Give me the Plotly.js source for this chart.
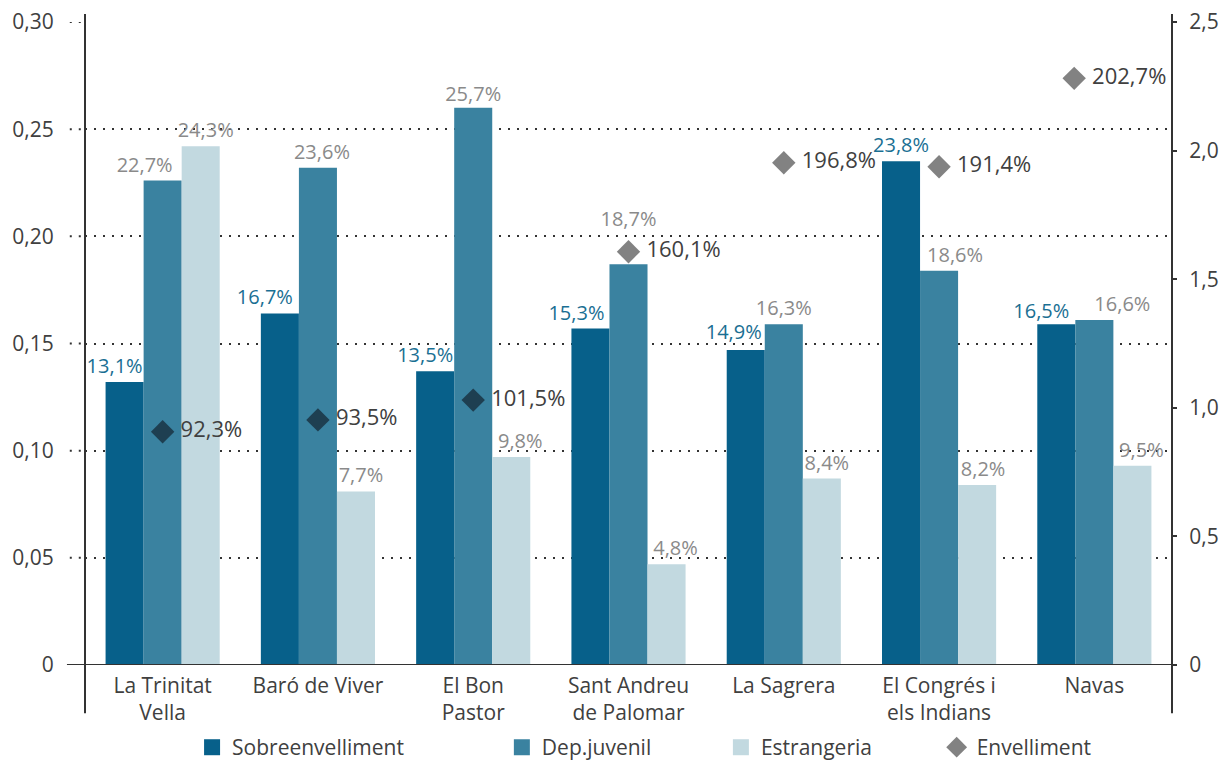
<!DOCTYPE html>
<html>
<head>
<meta charset="utf-8">
<script src="https://cdn.plot.ly/plotly-3.0.1.min.js"></script>
<style>html,body{margin:0;padding:0;background:#fff;}#chart{width:1222px;height:764px;}</style>
</head>
<body>
<div id="chart"></div>
<script>
// ---- data ----
const categories = ["La Trinitat<br>Vella", "Baró de Viver", "El Bon<br>Pastor", "Sant Andreu<br>de Palomar", "La Sagrera", "El Congrés i<br>els Indians", "Navas"];
const sobreenvelliment = [0.132, 0.164, 0.137, 0.157, 0.147, 0.235, 0.159];
const sobreLabels = ["13,1%", "16,7%", "13,5%", "15,3%", "14,9%", "23,8%", "16,5%"];
const depJuvenil = [0.226, 0.232, 0.260, 0.187, 0.159, 0.184, 0.161];
const depLabels = ["22,7%", "23,6%", "25,7%", "18,7%", "16,3%", "18,6%", "16,6%"];
const estrangeria = [0.242, 0.081, 0.097, 0.047, 0.087, 0.084, 0.093];
const estrLabels = ["24,3%", "7,7%", "9,8%", "4,8%", "8,4%", "8,2%", "9,5%"];
const envelliment = [0.907, 0.953, 1.030, 1.607, 1.953, 1.937, 2.281];
const envLabels = ["92,3%", "93,5%", "101,5%", "160,1%", "196,8%", "191,4%", "202,7%"];
const leftTicks = [0, 0.05, 0.10, 0.15, 0.20, 0.25, 0.30];
const leftTickText = ["0", "0,05", "0,10", "0,15", "0,20", "0,25", "0,30"];
const rightTicks = [0, 0.5, 1.0, 1.5, 2.0, 2.5];
const rightTickText = ["0", "0,5", "1,0", "1,5", "2,0", "2,5"];

// ---- styles / placement ----
const FONT = "'Open Sans', sans-serif";
const C_SOBRE = "#07608a", C_DEP = "#3a82a0", C_ESTR = "#c2d9e0";
const envColors = ["#1e3f51", "#1e3f51", "#1e3f51", "#828282", "#828282", "#828282", "#828282"];
const PLOT_W = 1087, PLOT_H = 643, Y_MAX = 0.30, BARGAP = 0.265;
const N = categories.length;
// label nudges as placed in the reference: horizontal px from bar centre, extra lift px
const sobreNudge = [-10, -15, -10, -14, -12, 0, -15];
const depNudge = [-18, 4, 0, 0, 0, 16, 28];
const estrNudge = [5, 5, 9, 9, 5, 6, 9];
const sobreLift = [0, 0, 0, 0, 2, 0, -3];
const depLift = [0, 0, -2, 29, 0, 0, 0];
const estrLift = [0, 0, 0, 0, 0, 0, 0];
const diamondNudge = [0, 0, 0, 0, 0, 0, -0.13];   // in category widths
const LABEL_GAP = 14;  // px from bar top to label centre

const barW = (1 - BARGAP) / 3;
function labelTrace(vals, labels, slot, nudgeX, lift, color) {
  return {
    type: "scatter", mode: "text", xaxis: "x2", yaxis: "y", showlegend: false, hoverinfo: "none",
    cliponaxis: false, textposition: "middle center",
    x: vals.map(function (v, i) { return i + (slot - 1) * barW + nudgeX[i] * N / PLOT_W; }),
    y: vals.map(function (v, i) { return v + (LABEL_GAP + lift[i]) * Y_MAX / PLOT_H; }),
    text: labels, textfont: {family: FONT, size: 20, color: color}
  };
}

const barCommon = {type: "bar", x: categories, hoverinfo: "none", showlegend: false};

const traces = [
  Object.assign({}, barCommon, {name: "Sobreenvelliment", y: sobreenvelliment, marker: {color: C_SOBRE}}),
  Object.assign({}, barCommon, {name: "Dep.juvenil", y: depJuvenil, marker: {color: C_DEP}}),
  Object.assign({}, barCommon, {name: "Estrangeria", y: estrangeria, marker: {color: C_ESTR}}),
  labelTrace(sobreenvelliment, sobreLabels, 0, sobreNudge, sobreLift, "#1a6f93"),
  labelTrace(depJuvenil, depLabels, 1, depNudge, depLift, "#8a8a8a"),
  labelTrace(estrangeria, estrLabels, 2, estrNudge, estrLift, "#8a8a8a"),
  {
    type: "scatter", mode: "markers+text", name: "Envelliment",
    x: envelliment.map(function (v, i) { return i + diamondNudge[i]; }), y: envelliment,
    xaxis: "x2", yaxis: "y2", text: envLabels, texttemplate: "\u00a0%{text}", textposition: "middle right", cliponaxis: false,
    marker: {symbol: "diamond", size: 18, color: envColors},
    textfont: {family: FONT, size: 22, color: "#404040"}, showlegend: false, hoverinfo: "none"
  }
];
// legend entries (larger symbols than bar legend icons allow)
const legendItems = [
  {name: "Sobreenvelliment", symbol: "square", color: C_SOBRE, legend: "legend"},
  {name: "Dep.juvenil", symbol: "square", color: C_DEP, legend: "legend2"},
  {name: "Estrangeria", symbol: "square", color: C_ESTR, legend: "legend3"},
  {name: "Envelliment", symbol: "diamond", color: "#828282", legend: "legend4"}
];
legendItems.forEach(function (it) {
  traces.push({type: "scatter", mode: "markers", name: it.name, x: [null], y: [null],
    marker: {symbol: it.symbol, size: 16, color: it.color}, legend: it.legend, hoverinfo: "none"});
});

const legendBase = {orientation: "h", yanchor: "middle", xanchor: "left", yref: "container", y: 0.0215,
  font: {family: FONT, size: 21, color: "#404040"}, bgcolor: "rgba(0,0,0,0)"};

const shapes = [
  {type: "line", xref: "paper", yref: "paper", x0: 0, x1: 0, y0: -0.075, y1: 1.0124, line: {color: "#333", width: 2}},
  {type: "line", xref: "paper", yref: "paper", x0: 1, x1: 1, y0: -0.075, y1: 1.0124, line: {color: "#333", width: 2}},
  {type: "line", xref: "paper", yref: "y", x0: -0.0166, x1: 1, y0: 0, y1: 0, line: {color: "#333", width: 2}, layer: "above"}
];
leftTicks.forEach(function (v) {
  if (v > 0) shapes.push({type: "line", xref: "paper", yref: "y", x0: -0.014, x1: 0, y0: v, y1: v,
    line: {color: "#333", width: 2, dash: "2px,7px"}});
});

const layout = {
  width: 1222, height: 764,
  margin: {l: 85, r: 50, t: 22, b: 99, autoexpand: false},
  paper_bgcolor: "#fff", plot_bgcolor: "#fff",
  font: {family: FONT, color: "#404040"},
  barmode: "group", bargap: BARGAP, bargroupgap: 0,
  xaxis: {
    type: "category", showgrid: false, showline: false, zeroline: false,
    ticks: "", tickfont: {family: FONT, size: 21, color: "#404040"}, ticklabelstandoff: 6
  },
  xaxis2: {overlaying: "x", range: [-0.5, N - 0.5], visible: false},
  yaxis: {
    range: [0, Y_MAX], tickvals: leftTicks, ticktext: leftTickText,
    showgrid: true, gridcolor: "#333", gridwidth: 2, griddash: "2px,7px",
    zeroline: false, showline: false, ticks: "outside", ticklen: 26, tickcolor: "rgba(0,0,0,0)",
    tickfont: {family: FONT, size: 21, color: "#404040"}
  },
  yaxis2: {
    overlaying: "y", side: "right", range: [0, 2.5], tickvals: rightTicks, ticktext: rightTickText,
    showgrid: false, zeroline: false, showline: false, ticks: "outside", ticklen: 4, tickwidth: 2,
    tickcolor: "#333", tickfont: {family: FONT, size: 21, color: "#404040"}, ticklabelstandoff: 8
  },
  legend: Object.assign({}, legendBase, {x: 0.0985}),
  legend2: Object.assign({}, legendBase, {x: 0.3835}),
  legend3: Object.assign({}, legendBase, {x: 0.585}),
  legend4: Object.assign({}, legendBase, {x: 0.7835}),
  shapes: shapes,
  showlegend: true
};

Plotly.newPlot("chart", traces, layout, {displayModeBar: false, staticPlot: true});
</script>
</body>
</html>
